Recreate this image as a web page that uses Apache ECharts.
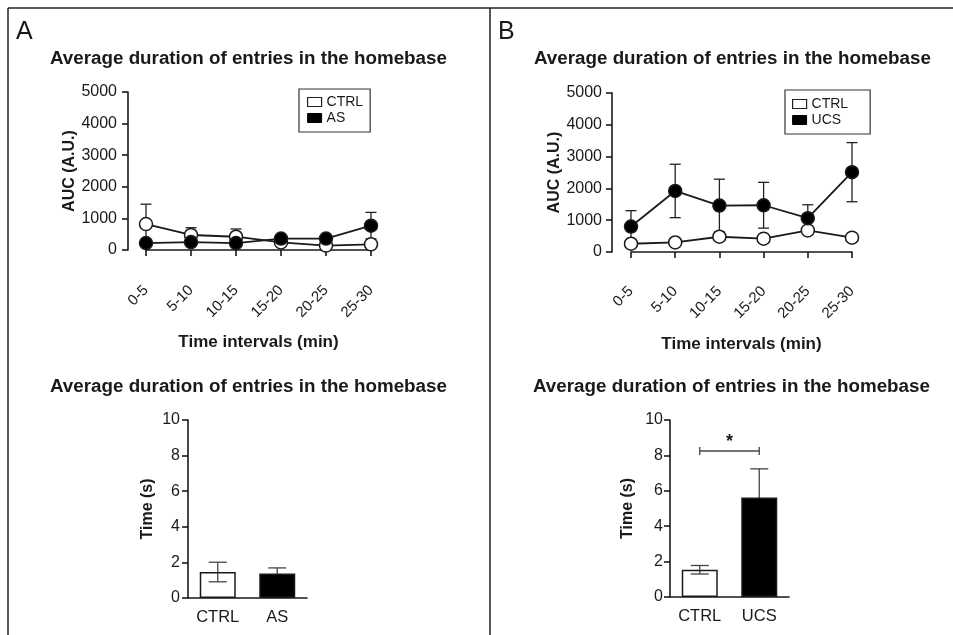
<!DOCTYPE html>
<html><head><meta charset="utf-8">
<script src="https://cdn.jsdelivr.net/npm/echarts@6/dist/echarts.min.js"></script>
<style>html,body{margin:0;padding:0;background:#fff}#c{width:953px;height:635px}</style>
</head><body><div id="c"></div>
<script>
// ---------- data ----------
const panelLetters = ['A', 'B'];
const chartTitle = 'Average duration of entries in the homebase';
const timeIntervals = ['0-5', '5-10', '10-15', '15-20', '20-25', '25-30'];
const aucTicks = { min: 0, max: 5000, interval: 1000 };
const timeTicks = { min: 0, max: 10, interval: 2 };

// Panel A (top): CTRL vs AS, mean and error
const ctrlA = [820, 475, 420, 240, 140, 180];
const ctrlAErr = [630, 230, 245, 60, 60, 60];
const asA = [220, 250, 220, 360, 360, 770];
const asAErr = [80, 80, 80, 60, 60, 420];

// Panel B (top): CTRL vs UCS
const ctrlB = [260, 300, 480, 420, 680, 450];
const ctrlBErr = [80, 80, 100, 90, 100, 90];
const ucsB = [800, 1920, 1460, 1470, 1065, 2510];
const ucsBErr = [500, 840, 830, 720, 420, 930];

// Bottom bar charts
const groupsA = ['CTRL', 'AS'];
const barA = [1.46, 1.37];
const barAErr = [0.55, 0.32];
const groupsB = ['CTRL', 'UCS'];
const barB = [1.54, 5.62];
const barBErr = [0.24, 1.62];
const sigBracketB = [0, 1, 8.25]; // from group, to group, level
const sigMark = '*';

// ---------- styling ----------
const FONT = "'Liberation Sans', Arial, Helvetica, sans-serif";
const INK = '#1a1a1a';

const chart = echarts.init(document.getElementById('c'), null, { renderer: 'canvas' });

function errData(vals, errs) { return vals.map((v, i) => [i, v, errs[i]]); }

function errorBars(xi, yi, vals, errs, capW, z, color) {
  return {
    type: 'custom', xAxisIndex: xi, yAxisIndex: yi, z: z, clip: false, silent: true,
    encode: { x: 0, y: 1 },
    data: errData(vals, errs),
    renderItem: function (params, api) {
      const i = api.value(0), m = api.value(1), e = api.value(2);
      const t = api.coord([i, m + e]), b = api.coord([i, m - e]);
      const h = capW / 2;
      const st = { stroke: color, lineWidth: 1.3 };
      return {
        type: 'group', children: [
          { type: 'line', shape: { x1: t[0], y1: t[1], x2: b[0], y2: b[1] }, style: st },
          { type: 'line', shape: { x1: t[0] - h, y1: t[1], x2: t[0] + h, y2: t[1] }, style: st },
          { type: 'line', shape: { x1: b[0] - h, y1: b[1], x2: b[0] + h, y2: b[1] }, style: st }
        ]
      };
    }
  };
}

function lineSeries(name, xi, yi, vals, filled, z) {
  return {
    type: 'line', name: name, xAxisIndex: xi, yAxisIndex: yi, data: vals, z: z,
    symbol: 'circle', symbolSize: 13, showSymbol: true,
    itemStyle: { color: filled ? '#000' : '#fff', borderColor: INK, borderWidth: 1.5 },
    lineStyle: { color: INK, width: 1.8 },
    emphasis: { disabled: true }, silent: true
  };
}

function barSeries(xi, yi, vals) {
  return {
    type: 'bar', xAxisIndex: xi, yAxisIndex: yi, data: vals, barWidth: 36, z: 3,
    itemStyle: {
      // open bar is see-through (white page behind) so its lower whisker shows
      color: function (p) { return p.dataIndex === 0 ? 'rgba(255,255,255,0)' : '#000'; },
      borderColor: INK, borderWidth: 1.5
    },
    emphasis: { disabled: true }, silent: true
  };
}

function topX(gi, offset, nameGap) {
  return {
    gridIndex: gi, type: 'category', data: timeIntervals, boundaryGap: false, offset: offset,
    axisLine: { show: true, lineStyle: { color: INK, width: 1.6 } },
    axisTick: { show: true, inside: false, length: 6, lineStyle: { color: INK, width: 1.6 } },
    axisLabel: { rotate: 45, margin: 19, fontSize: 15, color: INK, fontFamily: FONT, interval: 0 },
    name: 'Time intervals (min)', nameLocation: 'middle', nameGap: nameGap,
    nameTextStyle: { fontSize: 17, fontWeight: 'bold', color: INK, fontFamily: FONT }
  };
}
function valY(gi, ticks, offset, name, nameGap, margin) {
  return {
    gridIndex: gi, type: 'value', min: ticks.min, max: ticks.max, interval: ticks.interval, offset: offset,
    axisLine: { show: true, lineStyle: { color: INK, width: 1.6 } },
    axisTick: { show: true, inside: false, length: 6, lineStyle: { color: INK, width: 1.6 } },
    splitLine: { show: false },
    axisLabel: { fontSize: 16, color: INK, fontFamily: FONT, margin: margin,
      formatter: function (v) { return String(v); } },
    name: name, nameLocation: 'middle', nameGap: nameGap, nameRotate: 90,
    nameTextStyle: { fontSize: 16, fontWeight: 'bold', color: INK, fontFamily: FONT }
  };
}
function barX(gi, cats) {
  return {
    gridIndex: gi, type: 'category', data: cats, boundaryGap: true,
    axisLine: { show: true, lineStyle: { color: INK, width: 1.6 } },
    axisTick: { show: false },
    axisLabel: { fontSize: 16.5, color: INK, fontFamily: FONT, margin: 11, interval: 0 }
  };
}
function legend(left, top, names, pad) {
  return {
    left: left, top: top, orient: 'vertical', selectedMode: false,
    icon: 'rect', itemWidth: 14, itemHeight: 9, itemGap: 2,
    padding: pad, borderColor: '#333', borderWidth: 1.2,
    textStyle: { fontSize: 14, color: INK, fontFamily: FONT },
    data: [
      { name: names[0], itemStyle: { color: '#fff', borderColor: '#222', borderWidth: 1.2 } },
      { name: names[1], itemStyle: { color: '#000', borderColor: '#000', borderWidth: 1 } }
    ]
  };
}

const titleStyle = { fontSize: 18.8, fontWeight: 'bold', color: INK, fontFamily: FONT };
const letterStyle = { fontSize: 25, fontWeight: 'normal', color: INK, fontFamily: FONT };

const option = {
  animation: false,
  backgroundColor: '#fff',
  textStyle: { fontFamily: FONT },
  title: [
    { text: panelLetters[0], left: 16, top: 20, padding: 0, textStyle: letterStyle },
    { text: panelLetters[1], left: 498, top: 20, padding: 0, textStyle: letterStyle },
    { text: chartTitle, left: 50, top: 49, padding: 0, textStyle: titleStyle },
    { text: chartTitle, left: 534, top: 49, padding: 0, textStyle: titleStyle },
    { text: chartTitle, left: 50, top: 377, padding: 0, textStyle: titleStyle },
    { text: chartTitle, left: 533, top: 377, padding: 0, textStyle: titleStyle }
  ],
  legend: [
    legend(299, 89, ['CTRL', 'AS'], [6, 7, 7, 8]),
    legend(785, 90, ['CTRL', 'UCS'], [7, 22, 7, 7])
  ],
  grid: [
    { left: 146, top: 92, width: 225, height: 158, outerBoundsMode: 'none' },
    { left: 631, top: 93, width: 221, height: 159, outerBoundsMode: 'none' },
    { left: 188, top: 420, width: 119, height: 178, outerBoundsMode: 'none' },
    { left: 670, top: 420, width: 119, height: 177, outerBoundsMode: 'none' }
  ],
  xAxis: [
    topX(0, 19, 65),
    topX(1, 18, 66),
    barX(2, groupsA),
    barX(3, groupsB)
  ],
  yAxis: [
    valY(0, aucTicks, 18, 'AUC (A.U.)', 50, 11),
    valY(1, aucTicks, 19, 'AUC (A.U.)', 48, 10),
    valY(2, timeTicks, 0, 'Time (s)', 32, 8),
    valY(3, timeTicks, 0, 'Time (s)', 34, 7)
  ],
  series: [
    errorBars(0, 0, ctrlA, ctrlAErr, 11, 1, '#222'),
    errorBars(0, 0, asA, asAErr, 11, 1, '#222'),
    lineSeries('CTRL', 0, 0, ctrlA, false, 3),
    lineSeries('AS', 0, 0, asA, true, 4),

    errorBars(1, 1, ctrlB, ctrlBErr, 11, 1, '#222'),
    errorBars(1, 1, ucsB, ucsBErr, 11, 1, '#222'),
    lineSeries('CTRL', 1, 1, ctrlB, false, 3),
    lineSeries('UCS', 1, 1, ucsB, true, 4),

    errorBars(2, 2, barA, barAErr, 18, 2, '#444'),
    barSeries(2, 2, barA),
    errorBars(3, 3, barB, barBErr, 18, 2, '#444'),
    barSeries(3, 3, barB),
    {
      type: 'custom', xAxisIndex: 3, yAxisIndex: 3, z: 6, clip: false, silent: true,
      encode: { x: 0, y: 2 },
      data: [sigBracketB],
      renderItem: function (params, api) {
        const a = api.coord([api.value(0), api.value(2)]);
        const b = api.coord([api.value(1), api.value(2)]);
        const st = { stroke: '#444', lineWidth: 1.3 };
        return {
          type: 'group', children: [
            { type: 'line', shape: { x1: a[0], y1: a[1], x2: b[0], y2: b[1] }, style: st },
            { type: 'line', shape: { x1: a[0], y1: a[1] - 4, x2: a[0], y2: a[1] + 4 }, style: st },
            { type: 'line', shape: { x1: b[0], y1: b[1] - 4, x2: b[0], y2: b[1] + 4 }, style: st },
            { type: 'text', style: { text: sigMark, x: (a[0] + b[0]) / 2, y: a[1] - 9,
              align: 'center', verticalAlign: 'middle', font: 'bold 18px ' + FONT, fill: INK } }
          ]
        };
      }
    }
  ],
  graphic: [
    { type: 'line', shape: { x1: 8, y1: 8, x2: 953, y2: 8 }, style: { stroke: '#222', lineWidth: 1.5 }, silent: true },
    { type: 'line', shape: { x1: 8, y1: 8, x2: 8, y2: 635 }, style: { stroke: '#222', lineWidth: 1.5 }, silent: true },
    { type: 'line', shape: { x1: 490, y1: 8, x2: 490, y2: 635 }, style: { stroke: '#222', lineWidth: 1.5 }, silent: true }
  ]
};
chart.setOption(option);
</script>
</body></html>
